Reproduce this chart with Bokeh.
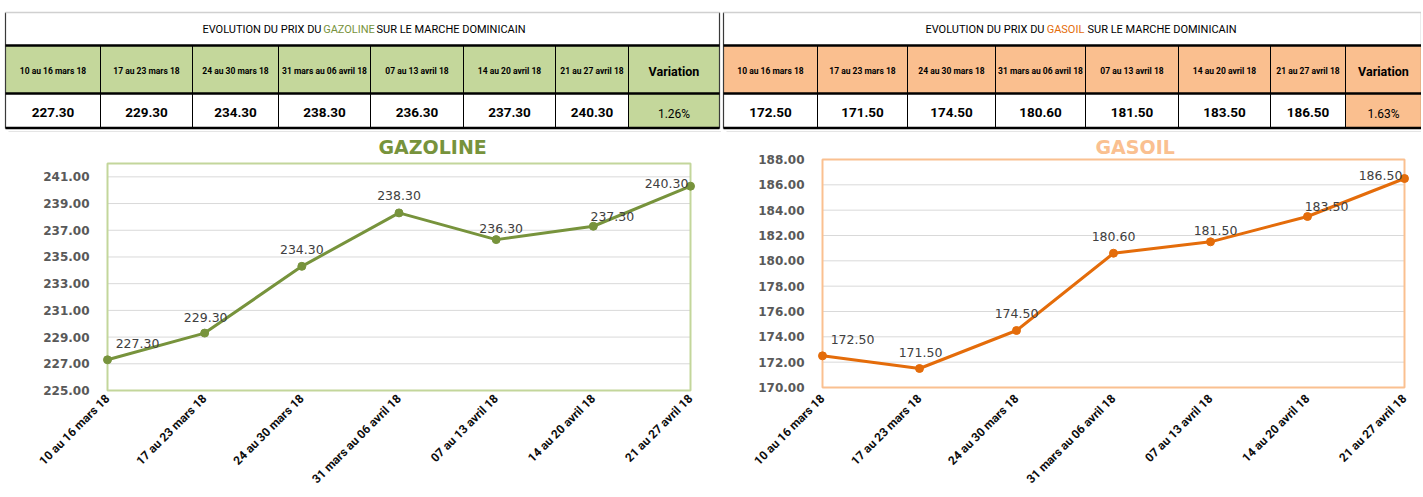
import math
from bokeh.plotting import figure
from bokeh.models import (ColumnDataSource, Range1d, FixedTicker,
                          PrintfTickFormatter, LabelSet)
from bokeh.layouts import row, column
from bokeh.embed import file_html
from bokeh.resources import INLINE
from bokeh.core.properties import value

# ---------------- data ----------------
PERIODS = ["10 au 16 mars 18", "17 au 23 mars 18", "24 au 30 mars 18",
           "31 mars au 06 avril 18", "07 au 13 avril 18", "14 au 20 avril 18",
           "21 au 27 avril 18"]
GAZOLINE = [227.30, 229.30, 234.30, 238.30, 236.30, 237.30, 240.30]
GASOIL = [172.50, 171.50, 174.50, 180.60, 181.50, 183.50, 186.50]
GAZ_TICKS = [225, 227, 229, 231, 233, 235, 237, 239, 241]
GAS_TICKS = [170, 172, 174, 176, 178, 180, 182, 184, 186, 188]
GAZ_RANGE = (225, 242)
GAS_RANGE = (170, 188)

# ---------------- styles ----------------
TFONT = "Roboto"
GREEN_FILL = "#C4D79B"
ORANGE_FILL = "#FABF8F"
GREEN_LINE = "#77933C"
ORANGE_LINE = "#E46C0A"
GREEN_FRAME = "#C3D69B"
ORANGE_FRAME = "#FAC090"
LABEL_DX = [30, 1, 0, 0, 5, 19, -24]
LABEL_DY = [16, 16, 17, 17, 11, 10, 3]

TABLE_H = 132
CHART_H = 363
FRAME_TOP, FRAME_BOTTOM = 25, 260   # shared frame (pixels inside chart figures)


def variation(vals):
    return "%.2f%%" % ((vals[-1] - vals[-2]) / vals[-2] * 100)


def make_table(edges, xr, width, fill, word, word_color, pre_r, word_c, suf_l, vals):
    p = figure(width=width, height=TABLE_H, x_range=Range1d(*xr),
               y_range=Range1d(TABLE_H, 0), toolbar_location=None,
               output_backend="svg", min_border=0,
               x_axis_location=None, y_axis_location=None)
    p.grid.visible = False
    p.outline_line_color = None
    L, R = edges[0], edges[-1]
    p.quad(left=[L], right=[R], top=[45], bottom=[93], fill_color=fill, line_color=None)
    p.quad(left=[edges[-2]], right=[R], top=[93], bottom=[128], fill_color=fill, line_color=None)
    p.segment(x0=edges[1:-1], x1=edges[1:-1], y0=[45] * 7, y1=[128] * 7,
              line_color="black", line_width=1)
    p.segment(x0=[L, R], x1=[L, R], y0=[12, 12], y1=[128, 128],
              line_color="#3a3a3a", line_width=1.2)
    p.segment(x0=[L], x1=[R], y0=[12], y1=[12], line_color="#D0D0D0", line_width=1.5)
    p.segment(x0=[L] * 3, x1=[R] * 3, y0=[45, 93, 127.5], y1=[45, 93, 127.5],
              line_color="black", line_width=2.5)
    p.segment(x0=[L + 3], x1=[R + 3], y0=[131.5], y1=[131.5], line_color="#DDDDDD", line_width=1.5)
    common = dict(text_baseline="middle", text_font=value(TFONT))
    p.text(x=[pre_r], y=[29], text=["EVOLUTION DU PRIX DU"], text_align="right",
           text_font_size="11px", text_color="black", **common)
    p.text(x=[word_c], y=[29], text=[word], text_align="center",
           text_font_size="11px", text_color=word_color, **common)
    p.text(x=[suf_l], y=[29], text=["SUR LE MARCHE DOMINICAIN"], text_align="left",
           text_font_size="11px", text_color="black", **common)
    centers = [(edges[i] + edges[i + 1]) / 2 for i in range(len(edges) - 1)]
    hsrc = ColumnDataSource(dict(x=centers[:-1], y=[70] * 7, t=PERIODS))
    p.text(x="x", y="y", text="t", source=hsrc, text_align="center",
           text_font_size="8.5px", text_font_style="bold", text_color="black", **common)
    p.text(x=[centers[-1]], y=[71], text=["Variation"], text_align="center",
           text_font_size="12.5px", text_font_style="bold", text_color="black", **common)
    vsrc = ColumnDataSource(dict(x=centers[:-1], y=[112] * 7, t=["%.2f" % v for v in vals]))
    p.text(x="x", y="y", text="t", source=vsrc, text_align="center",
           text_font_size="13.5px", text_font_style="bold", text_color="black", **common)
    p.text(x=[centers[-1]], y=[113], text=[variation(vals)], text_align="center",
           text_font_size="12px", text_color="black", **common)
    return p


def make_chart(width, box, vals, ticks, yr, line_color, frame_color, title,
               title_color, title_left):
    L, R, T, B = box
    pad = 6
    xpp = 6.0 / (R - L)
    ypp = (yr[1] - yr[0]) / float(B - T)
    p = figure(width=width, height=CHART_H,
               x_range=Range1d(-pad * xpp, 6 + pad * xpp),
               y_range=Range1d(yr[0] - (FRAME_BOTTOM - B) * ypp,
                               yr[1] + (T - FRAME_TOP) * ypp),
               toolbar_location=None, output_backend="svg",
               min_border_left=L - pad, min_border_right=width - R - pad,
               min_border_top=FRAME_TOP, min_border_bottom=CHART_H - FRAME_BOTTOM)
    p.outline_line_color = None
    p.grid.visible = False
    # title
    p.title.text = title
    p.title.align = "left"
    p.title.offset = title_left - (L - pad)
    p.title.text_font = "DejaVu Sans"
    p.title.text_font_style = "bold"
    p.title.text_font_size = "19px"
    p.title.text_color = title_color
    p.title.standoff = 0
    # grid lines and plot-area border
    g = [t for t in ticks if yr[0] < t < yr[1]]
    p.segment(x0=[0] * len(g), x1=[6] * len(g), y0=g, y1=g,
              line_color="#D9D9D9", line_width=1)
    p.quad(left=[0], right=[6], bottom=[yr[0]], top=[yr[1]],
           fill_color=None, line_color=frame_color, line_width=2)
    # y axis
    ay = p.yaxis[0]
    ay.ticker = FixedTicker(ticks=ticks)
    ay.formatter = PrintfTickFormatter(format="%.2f")
    ay.axis_line_color = None
    ay.major_tick_line_color = None
    ay.minor_tick_line_color = None
    ay.major_tick_out = 0
    ay.major_tick_in = 0
    ay.major_label_standoff = 12
    ay.major_label_text_font = "DejaVu Sans"
    ay.major_label_text_font_style = "bold"
    ay.major_label_text_font_size = "12px"
    ay.major_label_text_color = "#595959"
    # x axis (categories)
    ax = p.xaxis[0]
    ax.ticker = FixedTicker(ticks=list(range(len(PERIODS))))
    ax.major_label_overrides = {i: s for i, s in enumerate(PERIODS)}
    ax.major_label_orientation = math.pi / 4
    ax.axis_line_color = None
    ax.major_tick_line_color = None
    ax.minor_tick_line_color = None
    ax.major_tick_out = 0
    ax.major_tick_in = 0
    ax.major_label_standoff = 4
    ax.major_label_text_font = "Roboto"
    ax.major_label_text_font_style = "bold"
    ax.major_label_text_font_size = "12px"
    ax.major_label_text_color = "#0D0D0D"
    # series
    src = ColumnDataSource(dict(x=list(range(len(vals))), y=vals,
                                lab=["%.2f" % v for v in vals],
                                dx=LABEL_DX, dy=LABEL_DY))
    p.line("x", "y", source=src, line_color=line_color, line_width=3)
    p.scatter("x", "y", source=src, size=8, fill_color=line_color, line_color=line_color)
    p.add_layout(LabelSet(x="x", y="y", text="lab", x_offset="dx", y_offset="dy",
                          source=src, text_align="center", text_baseline="middle",
                          text_font=value("DejaVu Sans"), text_font_size="12.5px",
                          text_color="#404040"))
    return p


W_L, W_R = 721, 700
tl = make_table([5, 100, 192, 278, 370, 463, 555, 628, 719], (0, 721), W_L,
                GREEN_FILL, "GAZOLINE", GREEN_LINE, 321, 348.5, 376, GAZOLINE)
tr = make_table([723, 817, 907, 995, 1085, 1178, 1270, 1345, 1421], (721, 1421), W_R,
                ORANGE_FILL, "GASOIL", ORANGE_LINE, 1044, 1065, 1087, GASOIL)
cl = make_chart(W_L, (107, 690, 31, 258), GAZOLINE, GAZ_TICKS, GAZ_RANGE,
                GREEN_LINE, GREEN_FRAME, "GAZOLINE", GREEN_LINE, 378)
cr = make_chart(W_R, (101, 683, 27, 255), GASOIL, GAS_TICKS, GAS_RANGE,
                ORANGE_LINE, ORANGE_FRAME, "GASOIL", ORANGE_FRAME, 374)

layout = column(row(tl, tr), row(cl, cr))
open("out.html", "w").write(file_html(layout, INLINE))
